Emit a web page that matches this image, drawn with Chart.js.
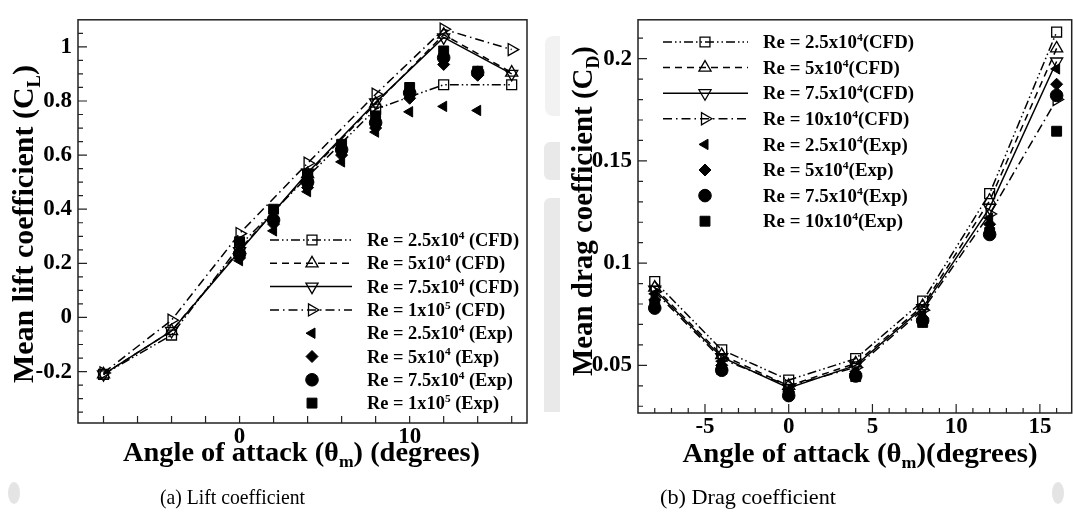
<!DOCTYPE html>
<html><head><meta charset="utf-8">
<script src="https://cdn.jsdelivr.net/npm/chart.js@4.4.1/dist/chart.umd.min.js"></script>
<style>
html,body{margin:0;padding:0;background:#fff;overflow:hidden;width:1073px;height:528px;}
#wrap{position:relative;width:1073px;height:528px;overflow:hidden;background:#fff;}
canvas{position:absolute;top:0;}
#cA{left:0;width:545px;height:528px;}
#cB{left:560px;width:520px;height:528px;}
.wm{position:absolute;background:#e9e9e9;}
</style></head>
<body><div id="wrap">
<div class="wm" style="left:545px;top:36px;width:15px;height:80px;background:#f2f2f2;border-radius:8px 0 0 8px;"></div>
<div class="wm" style="left:544px;top:142px;width:16px;height:38px;border-radius:6px 0 0 6px;"></div>
<div class="wm" style="left:544px;top:198px;width:16px;height:214px;border-radius:6px 0 0 0;"></div>
<div class="wm" style="left:8px;top:482px;width:12px;height:22px;border-radius:50%;background:#e4e4e4;"></div>
<div class="wm" style="left:1052px;top:482px;width:12px;height:22px;border-radius:50%;background:#e4e4e4;"></div>
<canvas id="cA" width="545" height="528"></canvas>
<canvas id="cB" width="520" height="528"></canvas>
</div>
<script>
// ---------------- DATA ----------------
// Lift coefficient (a)
const clX_CFD = [-8, -4, 0, 4, 8, 12, 16];
const cl_CFD_25 = [-0.21, -0.065, 0.265, 0.52, 0.77, 0.86, 0.86];
const cl_CFD_50 = [-0.21, -0.05, 0.25, 0.53, 0.79, 1.045, 0.905];
const cl_CFD_75 = [-0.21, -0.05, 0.245, 0.535, 0.795, 1.035, 0.90];
const cl_CFD_100 = [-0.205, -0.01, 0.31, 0.57, 0.825, 1.065, 0.99];
const clX_Exp = [0, 2, 4, 6, 8, 10, 12, 14];
const cl_Exp_25 = [0.21, 0.32, 0.465, 0.575, 0.685, 0.76, 0.78, 0.765];
const cl_Exp_50 = [0.22, 0.345, 0.48, 0.60, 0.70, 0.81, 0.935, 0.895];
const cl_Exp_75 = [0.235, 0.36, 0.50, 0.62, 0.72, 0.83, 0.96, 0.905];
const cl_Exp_100 = [0.28, 0.40, 0.53, 0.64, 0.745, 0.85, 0.985, 0.91];
const clYTicks = [-0.2, 0, 0.2, 0.4, 0.6, 0.8, 1];
const clXTicks = [0, 10];

// Drag coefficient (b)
const cdX_CFD = [-8, -4, 0, 4, 8, 12, 16];
const cd_CFD_25 = [0.091, 0.0576, 0.0428, 0.0533, 0.0814, 0.134, 0.213];
const cd_CFD_50 = [0.088, 0.055, 0.040, 0.051, 0.079, 0.1305, 0.205];
const cd_CFD_75 = [0.087, 0.054, 0.039, 0.050, 0.078, 0.127, 0.1986];
const cd_CFD_100 = [0.086, 0.053, 0.040, 0.049, 0.077, 0.124, 0.180];
const cdX_Exp = [-8, -4, 0, 4, 8, 12, 16];
const cd_Exp_25 = [0.085, 0.052, 0.038, 0.047, 0.075, 0.122, 0.195];
const cd_Exp_50 = [0.082, 0.050, 0.037, 0.046, 0.073, 0.119, 0.1875];
const cd_Exp_75 = [0.078, 0.0476, 0.0352, 0.0448, 0.0719, 0.114, 0.182];
const cd_Exp_100 = [0.080, 0.048, 0.036, 0.0445, 0.071, 0.115, 0.1645];
const cdYTicks = [0.05, 0.1, 0.15, 0.2];
const cdXTicks = [-5, 0, 5, 10, 15];

const legendA = [
  [{t:'Re = 2.5x10'},{t:'4',sup:1},{t:' (CFD)'}],
  [{t:'Re = 5x10'},{t:'4',sup:1},{t:' (CFD)'}],
  [{t:'Re = 7.5x10'},{t:'4',sup:1},{t:' (CFD)'}],
  [{t:'Re = 1x10'},{t:'5',sup:1},{t:' (CFD)'}],
  [{t:'Re = 2.5x10'},{t:'4',sup:1},{t:' (Exp)'}],
  [{t:'Re = 5x10'},{t:'4',sup:1},{t:' (Exp)'}],
  [{t:'Re = 7.5x10'},{t:'4',sup:1},{t:' (Exp)'}],
  [{t:'Re = 1x10'},{t:'5',sup:1},{t:' (Exp)'}]
];
const legendB = [
  [{t:'Re = 2.5x10'},{t:'4',sup:1},{t:'(CFD)'}],
  [{t:'Re = 5x10'},{t:'4',sup:1},{t:'(CFD)'}],
  [{t:'Re = 7.5x10'},{t:'4',sup:1},{t:'(CFD)'}],
  [{t:'Re = 10x10'},{t:'4',sup:1},{t:'(CFD)'}],
  [{t:'Re = 2.5x10'},{t:'4',sup:1},{t:'(Exp)'}],
  [{t:'Re = 5x10'},{t:'4',sup:1},{t:'(Exp)'}],
  [{t:'Re = 7.5x10'},{t:'4',sup:1},{t:'(Exp)'}],
  [{t:'Re = 10x10'},{t:'4',sup:1},{t:'(Exp)'}]
];

// ---------------- STYLES ----------------
const FAM = '"Liberation Serif", "Times New Roman", Times, serif';
const STY = [
  {dash:[9,3,1.5,3,1.5,3], ps:'rect', rot:0, r:7},
  {dash:[7,5], ps:'triangle', rot:0, r:7},
  {dash:[], ps:'triangle', rot:180, r:7},
  {dash:[9,4,1.5,4], ps:'triangle', rot:90, r:7}
];
const EXPSTY = [
  {ps:'triangle', rot:270, r:6},
  {ps:'rectRot', rot:0, r:6},
  {ps:'circle', rot:0, r:6.3},
  {ps:'rect', rot:0, r:7}
];
function pts(xs, ys){ return xs.map((x,i)=>({x:x, y:ys[i]})); }
function cfd(xs, ys, s){
  return {data:pts(xs,ys), borderColor:'#000', borderWidth:1.5, borderDash:s.dash,
    pointStyle:s.ps, pointRotation:s.rot, pointRadius:s.r, pointBorderWidth:1.3,
    pointBackgroundColor:'rgba(0,0,0,0)', pointBorderColor:'#000', fill:false,
    tension:0, showLine:true, order:2, clip:false, _leg:{line:true, s:s, fill:false}};
}
function exp(xs, ys, s){
  return {data:pts(xs,ys), showLine:false, borderColor:'#000', pointStyle:s.ps,
    pointRotation:s.rot, pointRadius:s.r, pointBackgroundColor:'#000',
    pointBorderColor:'#000', pointBorderWidth:1, order:1, clip:false, _leg:{line:false, s:s, fill:true}};
}

// ---------------- HELPERS ----------------
function richMeasure(ctx, parts, fs, weight){
  const small = fs*0.62; let total=0; const ws=[];
  parts.forEach(p=>{ ctx.font = `${weight} ${(p.sup||p.sub)?small:fs}px ${FAM}`;
    const w = ctx.measureText(p.t).width; ws.push(w); total+=w; });
  return {total, ws};
}
function richText(ctx, parts, cx, cy, o){
  const weight = o.weight||'bold';
  const m = richMeasure(ctx, parts, o.fs, weight);
  const sx = o.sx ? o.sx : (o.width ? o.width/m.total : 1);
  const small = o.fs*0.62;
  ctx.save(); ctx.translate(cx, cy); if (o.rot) ctx.rotate(o.rot); ctx.scale(sx,1);
  let x = o.align==='left' ? 0 : -m.total/2;
  const base = 0.34*o.fs;
  ctx.textBaseline='alphabetic'; ctx.textAlign='left'; ctx.fillStyle='#000';
  parts.forEach((p,i)=>{
    ctx.font = `${weight} ${(p.sup||p.sub)?small:o.fs}px ${FAM}`;
    let y = base; if (p.sup) y = base - 0.40*o.fs; if (p.sub) y = base + 0.24*o.fs;
    ctx.fillText(p.t, x, y); x += m.ws[i];
  });
  ctx.restore();
}
function drawMarker(ctx, ps, rotDeg, r, x, y, fill){
  let rad = rotDeg*Math.PI/180;
  ctx.beginPath();
  if (ps==='circle'){ ctx.arc(x,y,r,0,Math.PI*2); }
  else if (ps==='rect'){ const s=Math.SQRT1_2*r; ctx.rect(x-s,y-s,2*s,2*s); }
  else if (ps==='rectRot'){ ctx.moveTo(x,y-r); ctx.lineTo(x+r,y); ctx.lineTo(x,y+r); ctx.lineTo(x-r,y); ctx.closePath(); }
  else if (ps==='triangle'){
    for (let k=0;k<3;k++){ const px=x+Math.sin(rad)*r, py=y-Math.cos(rad)*r; if(k===0) ctx.moveTo(px,py); else ctx.lineTo(px,py); rad += 2*Math.PI/3; }
    ctx.closePath();
  }
  if (fill){ ctx.fillStyle='#000'; ctx.fill(); }
  ctx.lineWidth = fill?1:1.3; ctx.strokeStyle='#000'; ctx.setLineDash([]); ctx.stroke();
}
function fmt(v){ return String(+(+v).toFixed(3)); }

function makeDecor(cfg){
  return {id:'decor', afterDraw(chart){
    const ctx=chart.ctx, a=chart.chartArea, xs=chart.scales.x, ys=chart.scales.y;
    ctx.save();
    ctx.setLineDash([]);
    ctx.strokeStyle='#222'; ctx.lineWidth=1.5;
    ctx.strokeRect(a.left, a.top, a.right-a.left, a.bottom-a.top);
    ctx.lineWidth=1.2; ctx.beginPath();
    for (let i=0;i<cfg.xMinor.length;i++){
      const v=cfg.xMinor[i]; const p=xs.getPixelForValue(v);
      const L = cfg.xMajor.indexOf(v)>=0 ? cfg.xMajLen : cfg.xMinLen;
      ctx.moveTo(p, a.bottom); ctx.lineTo(p, a.bottom-L);
    }
    for (let i=0;i<cfg.yMinor.length;i++){
      const v=cfg.yMinor[i]; const p=ys.getPixelForValue(v);
      const maj = cfg.yMajor.some(m=>Math.abs(m-v)<1e-9);
      const L = maj ? 9 : 5;
      ctx.moveTo(a.left, p); ctx.lineTo(a.left+L, p);
    }
    ctx.stroke();
    richText(ctx, cfg.yTitle, cfg.yTitlePos[0], cfg.yTitlePos[1], {fs:30, width:cfg.yTitleW, rot:-Math.PI/2});
    richText(ctx, cfg.xTitle, cfg.xTitlePos[0], cfg.xTitlePos[1], {fs:28, width:cfg.xTitleW});
    richText(ctx, [{t:cfg.caption}], cfg.capPos[0], cfg.capPos[1], {fs:21, weight:'normal', width:cfg.capW});
    const L = cfg.legend;
    const m0 = richMeasure(ctx, cfg.legendText[0], L.fs, 'bold');
    const sx = L.w0 / m0.total;
    chart.data.datasets.forEach((ds, i)=>{
      const y = L.y0 + i*L.dy;
      const lg = ds._leg;
      if (lg.line){
        ctx.save(); ctx.strokeStyle='#000'; ctx.lineWidth=1.5; ctx.setLineDash(lg.s.dash||[]);
        ctx.beginPath(); ctx.moveTo(L.x0, y); ctx.lineTo(L.x1, y); ctx.stroke(); ctx.restore();
      }
      drawMarker(ctx, lg.s.ps, lg.s.rot, lg.s.r, L.mx, y, lg.fill);
      richText(ctx, cfg.legendText[i], L.tx, y, {fs:L.fs, sx:sx, align:'left'});
    });
    ctx.restore();
  }};
}
function range(a, b, s){ const out=[]; for (let v=a; v<=b+1e-9; v+=s) out.push(+v.toFixed(4)); return out; }

const tickFont = {family:FAM, weight:'bold', size:23};

function makeChart(id, datasets, sc, decor){
  return new Chart(document.getElementById(id), {
    type:'line',
    data:{datasets:datasets},
    options:{
      responsive:false, animation:false, devicePixelRatio:1,
      layout:{padding:sc.pad},
      plugins:{legend:{display:false}, tooltip:{enabled:false}},
      elements:{line:{borderCapStyle:'butt'}},
      scales:{
        x:{type:'linear', min:sc.xmin, max:sc.xmax,
          grid:{display:false, drawTicks:false}, border:{display:false},
          afterBuildTicks:s=>{ s.ticks = sc.xTicks.map(v=>({value:v})); },
          afterFit:s=>{ s.height = sc.xH; },
          ticks:{font:tickFont, color:'#000', padding:0, maxRotation:0, autoSkip:false, callback:fmt}},
        y:{type:'linear', min:sc.ymin, max:sc.ymax,
          grid:{display:false, drawTicks:false}, border:{display:false},
          afterBuildTicks:s=>{ s.ticks = sc.yTicks.map(v=>({value:v})); },
          afterFit:s=>{ s.width = sc.yW; },
          ticks:{font:tickFont, color:'#000', padding:6, autoSkip:false, callback:fmt}}
      }
    },
    plugins:[makeDecor(decor)]
  });
}

makeChart('cA', [
  cfd(clX_CFD, cl_CFD_25, STY[0]), cfd(clX_CFD, cl_CFD_50, STY[1]),
  cfd(clX_CFD, cl_CFD_75, STY[2]), cfd(clX_CFD, cl_CFD_100, STY[3]),
  exp(clX_Exp, cl_Exp_25, EXPSTY[0]), exp(clX_Exp, cl_Exp_50, EXPSTY[1]),
  exp(clX_Exp, cl_Exp_75, EXPSTY[2]), exp(clX_Exp, cl_Exp_100, EXPSTY[3])
], {pad:{top:5, right:18, left:0, bottom:58}, xmin:-9.5, xmax:16.9, ymin:-0.39, ymax:1.1,
    xTicks:clXTicks, yTicks:clYTicks, xH:47, yW:78},
{
  xMinor:range(-8,16,2), xMajor:clXTicks, xMajLen:7, xMinLen:7,
  yMinor:range(-0.35,1.05,0.05), yMajor:clYTicks,
  yTitle:[{t:'Mean lift coefficient (C'},{t:'L',sub:1},{t:')'}], yTitlePos:[23,224], yTitleW:318,
  xTitle:[{t:'Angle of attack (θ'},{t:'m',sub:1},{t:') (degrees)'}], xTitlePos:[301.5,451], xTitleW:357,
  caption:'(a) Lift coefficient', capPos:[232.5,497], capW:145,
  legendText:legendA,
  legend:{x0:270, x1:352, mx:312, tx:367, y0:240, dy:23.3, fs:18, w0:152}
});

makeChart('cB', [
  cfd(cdX_CFD, cd_CFD_25, STY[0]), cfd(cdX_CFD, cd_CFD_50, STY[1]),
  cfd(cdX_CFD, cd_CFD_75, STY[2]), cfd(cdX_CFD, cd_CFD_100, STY[3]),
  exp(cdX_Exp, cd_Exp_25, EXPSTY[0]), exp(cdX_Exp, cd_Exp_50, EXPSTY[1]),
  exp(cdX_Exp, cd_Exp_75, EXPSTY[2]), exp(cdX_Exp, cd_Exp_100, EXPSTY[3])
], {pad:{top:9, right:3, left:0, bottom:68}, xmin:-9, xmax:16.9, ymin:0.0267, ymax:0.219,
    xTicks:cdXTicks, yTicks:cdYTicks, xH:47, yW:78},
{
  xMinor:range(-8,16,1), xMajor:cdXTicks, xMajLen:9, xMinLen:5,
  yMinor:range(0.03,0.21,0.01), yMajor:[0.05,0.1,0.15,0.2],
  yTitle:[{t:'Mean drag coefficient (C'},{t:'D',sub:1},{t:')'}], yTitlePos:[22,211], yTitleW:330,
  xTitle:[{t:'Angle of attack (θ'},{t:'m',sub:1},{t:')(degrees)'}], xTitlePos:[300,452], xTitleW:355,
  caption:'(b) Drag coefficient', capPos:[188,497], capW:176,
  legendText:legendB,
  legend:{x0:103, x1:188, mx:145, tx:203, y0:42, dy:25.6, fs:18, w0:151}
});
</script>
</body></html>
